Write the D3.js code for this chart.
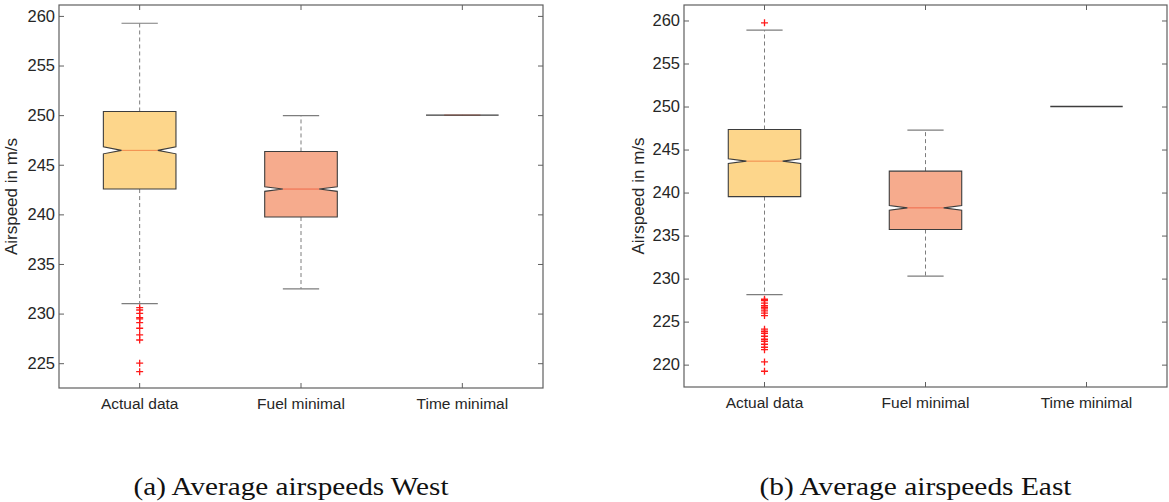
<!DOCTYPE html>
<html>
<head>
<meta charset="utf-8">
<script src="https://cdn.jsdelivr.net/npm/d3@7"></script>
<style>
  html, body { margin: 0; padding: 0; background: #fff; }
  svg { display: block; }
  text { font-family: "Liberation Sans", Arial, Helvetica, sans-serif; fill: #262626; }
  .caption { font-family: "Liberation Serif", "DejaVu Serif", serif; fill: #111; }
</style>
</head>
<body>
<svg id="chart" width="1169" height="502"></svg>
<script>
// ---------------- data ----------------
const categories = ["Actual data", "Fuel minimal", "Time minimal"];

// West
const westQ1 = [242.55, 239.73, 250];
const westMedian = [246.45, 242.55, 250];
const westQ3 = [250.37, 246.34, 250];
const westWhiskerLow = [231.0, 232.5, 250];
const westWhiskerHigh = [259.26, 249.95, 250];
const westNotch = [0.35, 0.23, 0];
const westOutliers = [
  [230.6, 230.36, 230.03, 229.59, 229.46, 229.08, 228.52, 227.85, 227.34, 225.0, 224.15],
  [],
  []
];
const westYTicks = [225, 230, 235, 240, 245, 250, 255, 260];
const westYDomain = [222.5, 261.1];

// East
const eastQ1 = [239.53, 235.7, 250];
const eastMedian = [243.65, 238.22, 250];
const eastQ3 = [247.33, 242.49, 250];
const eastWhiskerLow = [228.14, 230.28, 250];
const eastWhiskerHigh = [258.88, 247.26, 250];
const eastNotch = [0.27, 0.27, 0];
const eastOutliers = [
  [259.73, 227.6, 227.44, 227.14, 226.86, 226.67, 226.47, 226.24, 225.98, 225.7,
   224.12, 223.88, 223.65, 223.3, 222.95, 222.72, 222.37, 222.02, 221.74, 220.31, 219.23],
  [],
  []
];
const eastYTicks = [220, 225, 230, 235, 240, 245, 250, 255, 260];
const eastYDomain = [217.4, 261.8];

const yLabel = "Airspeed in m/s";
const captions = ["(a) Average airspeeds West", "(b) Average airspeeds East"];

// ---------------- style ----------------
const fills = ["#FDD68B", "#F6AB8D", "#FDD68B"];
const medianColors = ["#F28A4C", "#F0694A", "#F0694A"];
const outlineColor = "#3d3d3d";
const whiskerColor = "#7d7d7d";
const axisColor = "#5f5f5f";

const svg = d3.select("#chart");

function drawPanel(p) {
  const g = svg.append("g");
  const x = d3.scaleBand().domain(categories).range([p.x0, p.x1]).paddingInner(0).paddingOuter(0);
  const y = d3.scaleLinear().domain(p.yDomain).range([p.y1, p.y0]);
  const bw = x.bandwidth();
  const boxW = bw * 0.45;
  const cx = c => x(c) + bw / 2;

  // frame
  g.append("rect")
    .attr("x", p.x0).attr("y", p.y0)
    .attr("width", p.x1 - p.x0).attr("height", p.y1 - p.y0)
    .attr("fill", "none").attr("stroke", axisColor).attr("stroke-width", 1.2);

  // axes
  const yAxisL = d3.axisLeft(y).tickValues(p.yTicks).tickSize(-5).tickPadding(4).tickFormat(d3.format("d"));
  const gL = g.append("g").attr("transform", `translate(${p.x0},0)`).call(yAxisL);
  const yAxisR = d3.axisRight(y).tickValues(p.yTicks).tickSize(-5).tickFormat("");
  const gR = g.append("g").attr("transform", `translate(${p.x1},0)`).call(yAxisR);
  const xAxisB = d3.axisBottom(x).tickSize(-5).tickPadding(10);
  const gB = g.append("g").attr("transform", `translate(0,${p.y1})`).call(xAxisB);
  const xAxisT = d3.axisTop(x).tickSize(-5).tickFormat("");
  const gT = g.append("g").attr("transform", `translate(0,${p.y0})`).call(xAxisT);
  [gL, gR, gB, gT].forEach(a => {
    a.select(".domain").remove();
    a.selectAll(".tick line").attr("stroke", axisColor).attr("stroke-width", 1);
    a.selectAll(".tick text").attr("fill", "#262626")
      .attr("font-family", '"Liberation Sans", Arial, Helvetica, sans-serif');
  });
  gL.selectAll(".tick text").attr("font-size", 16.5);
  gB.selectAll(".tick text").attr("font-size", 15.5);

  // y label
  g.append("text")
    .attr("transform", `translate(${p.ylabX},${(p.y0 + p.y1) / 2}) rotate(-90)`)
    .attr("text-anchor", "middle")
    .attr("font-size", 17)
    .text(yLabel);

  // boxes
  categories.forEach((c, i) => {
    const xc = cx(c);
    const l = xc - boxW / 2, r = xc + boxW / 2;
    const ind = boxW / 4;
    const q1 = y(p.q1[i]), q3 = y(p.q3[i]), med = y(p.median[i]);
    const nLo = y(p.median[i] - p.notch[i]), nHi = y(p.median[i] + p.notch[i]);
    const wLo = y(p.wLow[i]), wHi = y(p.wHigh[i]);
    const capW = boxW / 2;

    // whiskers (dashed)
    g.append("line").attr("x1", xc).attr("x2", xc).attr("y1", q3).attr("y2", wHi)
      .attr("stroke", whiskerColor).attr("stroke-width", 1).attr("stroke-dasharray", "4,3");
    g.append("line").attr("x1", xc).attr("x2", xc).attr("y1", q1).attr("y2", wLo)
      .attr("stroke", whiskerColor).attr("stroke-width", 1).attr("stroke-dasharray", "4,3");
    if (p.wHigh[i] !== p.q3[i]) {
      g.append("line").attr("x1", xc - capW / 2).attr("x2", xc + capW / 2).attr("y1", wHi).attr("y2", wHi)
        .attr("stroke", whiskerColor).attr("stroke-width", 1.2);
    }
    if (p.wLow[i] !== p.q1[i]) {
      g.append("line").attr("x1", xc - capW / 2).attr("x2", xc + capW / 2).attr("y1", wLo).attr("y2", wLo)
        .attr("stroke", whiskerColor).attr("stroke-width", 1.2);
    }

    const pts = [
      [l, q1], [l, nLo], [l + ind, med], [l, nHi], [l, q3],
      [r, q3], [r, nHi], [r - ind, med], [r, nLo], [r, q1]
    ];
    const line = d3.line();
    g.append("path").attr("d", line(pts) + "Z").attr("fill", fills[i]).attr("stroke", "none");
    g.append("line").attr("x1", l + ind).attr("x2", r - ind).attr("y1", med).attr("y2", med)
      .attr("stroke", medianColors[i]).attr("stroke-width", 1);
    g.append("path").attr("d", line(pts) + "Z").attr("fill", "none")
      .attr("stroke", outlineColor).attr("stroke-width", p.q1[i] === p.q3[i] ? 1.4 : 1.1);

    // outliers
    const s = 3.5;
    p.outliers[i].forEach(v => {
      const yy = y(v);
      g.append("path")
        .attr("d", `M${xc - s},${yy}H${xc + s}M${xc},${yy - s}V${yy + s}`)
        .attr("stroke", "#ff1a1a").attr("stroke-width", 1.3).attr("fill", "none");
    });
  });

  // caption
  g.append("text").attr("class", "caption")
    .attr("x", p.capX).attr("y", 495)
    .attr("text-anchor", "middle")
    .attr("font-size", 25)
    .attr("textLength", p.capLen).attr("lengthAdjust", "spacingAndGlyphs")
    .text(p.caption);
}

drawPanel({
  x0: 59, x1: 543, y0: 5, y1: 388,
  yDomain: westYDomain, yTicks: westYTicks,
  q1: westQ1, median: westMedian, q3: westQ3,
  wLow: westWhiskerLow, wHigh: westWhiskerHigh, notch: westNotch,
  outliers: westOutliers, ylabX: 17, capX: 291, capLen: 315, caption: captions[0]
});
drawPanel({
  x0: 684, x1: 1167, y0: 5, y1: 387,
  yDomain: eastYDomain, yTicks: eastYTicks,
  q1: eastQ1, median: eastMedian, q3: eastQ3,
  wLow: eastWhiskerLow, wHigh: eastWhiskerHigh, notch: eastNotch,
  outliers: eastOutliers, ylabX: 644, capX: 915.5, capLen: 312, caption: captions[1]
});
</script>
</body>
</html>
